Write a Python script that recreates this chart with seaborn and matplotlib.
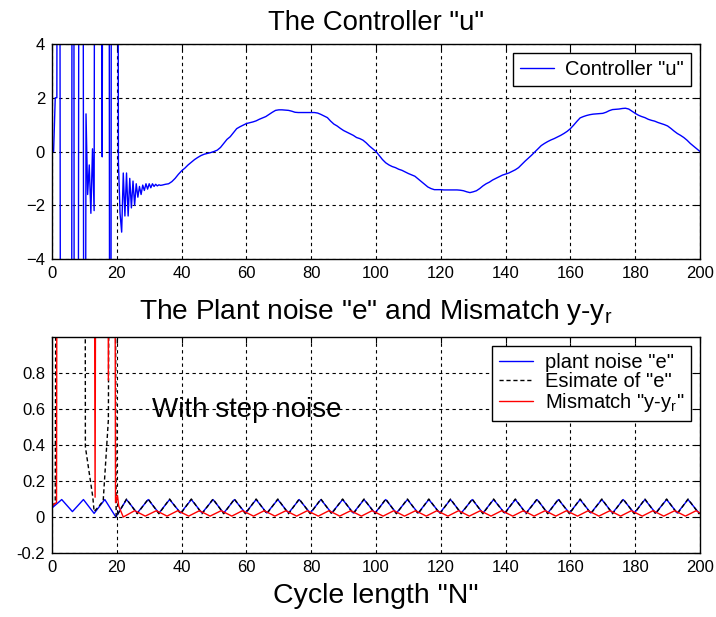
import numpy as np
import pandas as pd
import matplotlib
matplotlib.use("Agg")
import matplotlib.pyplot as plt
import seaborn as sns

# ---------------- data ----------------
# Controller u: fine sampling (0.5) for the transient, unit steps afterwards
N_u_early = np.arange(0, 34, 0.5)
u_early = [0, 0, 2, 2, 50, 2, -50, -50, -40, -30, -30, -20, -20, 60, -40, -30,
           -20, 30, 20, 20, -30,
           1.4, -1.6, -0.5, -2.3, 0.1, -2.2, 40, 40, 40, 30, -0.2, 40, 40, 40,
           30, -40, 40, 40, 40, 40,
           -0.4, -2.3, -3.0, -0.8, -2.4, -0.8, -2.4, -1.0, -2.1, -1.1, -2.0,
           -1.2, -1.7, -1.3, -1.6, -1.25, -1.45, -1.2, -1.4, -1.2, -1.35, -1.2,
           -1.3, -1.22, -1.28, -1.24, -1.26]
N_u_late = np.arange(34, 201)
u_late = [-1.25, -1.22, -1.2, -1.12, -1.0, -0.85, -0.72, -0.62, -0.5, -0.4,
          -0.3, -0.22, -0.15, -0.1, -0.07, -0.04, 0.0, 0.05, 0.15, 0.3,
          0.45, 0.55, 0.7, 0.85, 0.92, 0.98, 1.04, 1.07, 1.1, 1.14,
          1.2, 1.25, 1.3, 1.38, 1.46, 1.53, 1.55, 1.55, 1.54, 1.53,
          1.5, 1.46, 1.45, 1.45, 1.45, 1.45, 1.45, 1.45, 1.43, 1.38,
          1.32, 1.26, 1.13, 1.02, 0.95, 0.86, 0.78, 0.72, 0.66, 0.6,
          0.52, 0.48, 0.42, 0.32, 0.2, 0.1, 0.0, -0.15, -0.3, -0.42,
          -0.5, -0.56, -0.6, -0.66, -0.7, -0.76, -0.82, -0.87, -0.92, -1.02,
          -1.12, -1.22, -1.32, -1.38, -1.42, -1.42, -1.42, -1.43, -1.43, -1.43,
          -1.43, -1.43, -1.44, -1.46, -1.5, -1.53, -1.5, -1.46, -1.38, -1.28,
          -1.2, -1.14, -1.06, -1.0, -0.94, -0.88, -0.84, -0.8, -0.74, -0.68,
          -0.6, -0.48, -0.36, -0.25, -0.14, -0.02, 0.1, 0.22, 0.3, 0.37,
          0.43, 0.48, 0.54, 0.6, 0.67, 0.75, 0.85, 0.98, 1.12, 1.25,
          1.3, 1.34, 1.37, 1.39, 1.4, 1.41, 1.42, 1.46, 1.52, 1.56,
          1.57, 1.58, 1.6, 1.61, 1.58, 1.5, 1.42, 1.35, 1.3, 1.26,
          1.2, 1.16, 1.13, 1.08, 1.04, 1.0, 0.95, 0.86, 0.76, 0.67,
          0.6, 0.52, 0.42, 0.3, 0.2, 0.1, 0.0]

# plant noise e: turning points
e_head_N = [0.0]
e_head_v = [0.05]
e_peaks_N = [3.0, 9.7, 16.3, 23.0, 29.7, 36.3, 43.0, 49.7, 56.3, 63.0, 69.7,
             76.3, 83.0, 89.7, 96.3, 103.0, 109.7, 116.3, 123.0, 129.7, 136.3,
             143.0, 149.7, 156.3, 163.0, 169.7, 176.3, 183.0, 189.7, 196.3]
e_troughs_N = [6.3, 13.0, 19.7, 26.3, 33.0, 39.7, 46.3, 53.0, 59.7, 66.3, 73.0,
               79.7, 86.3, 93.0, 99.7, 106.3, 113.0, 119.7, 126.3, 133.0, 139.7,
               146.3, 153.0, 159.7, 166.3, 173.0, 179.7, 186.3, 193.0, 199.7]
e_peak_v = 0.097
e_trough_v = [0.03, 0.02, 0.0] + [0.022] * 27
e_end_N, e_end_v = 200.0, 0.024

# estimate of e: transient then follows e
est_head_N = [0.0, 1.0, 1.7, 10.1, 10.3, 12.6, 13.0, 14.5, 15.8, 17.4, 18.3,
              19.0, 19.8]
est_head_v = [0.06, 0.08, 5.0, 5.0, 0.39, 0.11, 0.03, 0.06, 0.09, 0.54, 5.0,
              5.0, 0.0]
est_peak_v = 0.1
est_trough_v = 0.018

# mismatch y - y_r
m_head_N = [0.0, 0.5, 1.4, 1.8, 12.6, 13.3, 13.9, 16.9, 17.4, 17.9, 19.1,
            19.6, 20.2, 20.6, 22.0]
m_head_v = [0.06, 0.07, 0.08, 5.0, 5.0, 0.11, 5.0, 5.0, 0.76, 5.0, 5.0,
            0.08, 0.12, 0.06, 0.0]
m_peaks_N = [25.5, 32.2, 38.8, 45.5, 52.2, 58.8, 65.5, 72.2, 78.8, 85.5, 92.2,
             98.8, 105.5, 112.2, 118.8, 125.5, 132.2, 138.8, 145.5, 152.2,
             158.8, 165.5, 172.2, 178.8, 185.5, 192.2, 198.8]
m_troughs_N = [28.8, 35.5, 42.2, 48.8, 55.5, 62.2, 68.8, 75.5, 82.2, 88.8,
               95.5, 102.2, 108.8, 115.5, 122.2, 128.8, 135.5, 142.2, 148.8,
               155.5, 162.2, 168.8, 175.5, 182.2, 188.8, 195.5]
m_peak_v = 0.035
m_trough_v = 0.005
m_end_N, m_end_v = 200.0, 0.022

x_ticks = [0, 20, 40, 60, 80, 100, 120, 140, 160, 180, 200]
u_ticks = [-4, -2, 0, 2, 4]
e_ticks = [-0.2, 0, 0.2, 0.4, 0.6, 0.8]
e_tick_labels = ["-0.2", "0", "0.2", "0.4", "0.6", "0.8"]

# ---------------- frames ----------------
df_u = pd.DataFrame({"N": np.concatenate([N_u_early, N_u_late]),
                     "u": np.concatenate([u_early, u_late])})


def series(head_N, head_v, pk_N, pk_v, tr_N, tr_v, end_N=None, end_v=None):
    Ns = list(head_N) + list(pk_N) + list(tr_N)
    pv = pk_v if isinstance(pk_v, list) else [pk_v] * len(pk_N)
    tv = tr_v if isinstance(tr_v, list) else [tr_v] * len(tr_N)
    vs = list(head_v) + pv + tv
    if end_N is not None:
        Ns.append(end_N)
        vs.append(end_v)
    return pd.DataFrame({"N": Ns, "v": vs}).sort_values("N").reset_index(drop=True)


df_e = series(e_head_N, e_head_v, e_peaks_N, e_peak_v, e_troughs_N, e_trough_v,
              e_end_N, e_end_v)
df_est = series(est_head_N, est_head_v, e_peaks_N[3:], est_peak_v,
                e_troughs_N[3:], est_trough_v, e_end_N, e_end_v)
df_m = series(m_head_N, m_head_v, m_peaks_N, m_peak_v, m_troughs_N, m_trough_v,
              m_end_N, m_end_v)

# ---------------- style ----------------
sns.set_style("white")
plt.rcParams['font.family'] = ['Liberation Sans', 'DejaVu Sans']
plt.rcParams['mathtext.fontset'] = 'custom'
plt.rcParams['mathtext.rm'] = 'Liberation Sans'
plt.rcParams['mathtext.it'] = 'Liberation Sans'
plt.rcParams['text.color'] = 'black'
plt.rcParams['axes.labelcolor'] = 'black'
plt.rcParams['xtick.color'] = 'black'
plt.rcParams['ytick.color'] = 'black'

fig = plt.figure(figsize=(7.16, 6.17), dpi=100)
ax1 = fig.add_axes([52 / 716, 1 - 259 / 617, 648 / 716, 215 / 617])
ax2 = fig.add_axes([52 / 716, 1 - 553 / 617, 648 / 716, 216 / 617])

grid_kw = dict(color="black", linestyle=(0, (3, 3)), linewidth=0.8)

sns.lineplot(data=df_u, x="N", y="u", ax=ax1, color="blue", linewidth=1.0,
             estimator=None, sort=False, label='Controller "u"')
ax1.set_xlim(0, 200)
ax1.set_ylim(-4, 4)
ax1.set_xticks(x_ticks)
ax1.set_yticks(u_ticks)
ax1.set_xlabel("")
ax1.set_ylabel("")
ax1.set_title('The Controller "u"', fontsize=19.8, pad=10, color="black")

sns.lineplot(data=df_e, x="N", y="v", ax=ax2, color="blue", linewidth=1.0,
             estimator=None, sort=False, label='plant noise "e"')
sns.lineplot(data=df_est, x="N", y="v", ax=ax2, color="black", linewidth=1.0,
             estimator=None, sort=False, label='Esimate of "e"',
             linestyle=(0, (3, 2)))
sns.lineplot(data=df_m, x="N", y="v", ax=ax2, color="red", linewidth=1.0,
             estimator=None, sort=False, label='Mismatch "y-y$_\\mathrm{r}$"')
ax2.set_xlim(0, 200)
ax2.set_ylim(-0.2, 1.0)
ax2.set_xticks(x_ticks)
ax2.set_yticks(e_ticks)
ax2.set_yticklabels(e_tick_labels)
ax2.set_ylabel("")
ax2.set_xlabel('Cycle length "N"', fontsize=20.5, labelpad=6, color="black")
ax2.set_title('The Plant noise "e" and Mismatch y-y$_\\mathrm{r}$',
              fontsize=20.2, pad=13, color="black")
ax2.text(60, 0.595, "With step noise", fontsize=20, ha="center", va="center",
         color="black")

for ax in (ax1, ax2):
    ax.grid(True, **grid_kw)
    ax.tick_params(direction="in", top=True, right=True, length=4,
                   labelsize=12, pad=5, colors="black")
    for s in ax.spines.values():
        s.set_color("black")
        s.set_linewidth(1.0)

leg1 = ax1.legend(loc="upper right", fontsize=14.5, frameon=True, fancybox=False,
                  edgecolor="black", framealpha=1, handlelength=1.7,
                  handletextpad=0.55, borderaxespad=0.45, borderpad=0.35)
leg1.get_frame().set_linewidth(1.0)
leg2 = ax2.legend(loc="upper right", fontsize=14.5, frameon=True, fancybox=False,
                  edgecolor="black", framealpha=1, handlelength=1.7,
                  handletextpad=0.55, borderaxespad=0.45, borderpad=0.35,
                  labelspacing=0.0)
leg2.get_frame().set_linewidth(1.0)
for leg in (leg1, leg2):
    for t in leg.get_texts():
        t.set_color("black")

fig.savefig("out.png", dpi=100, facecolor="white")
